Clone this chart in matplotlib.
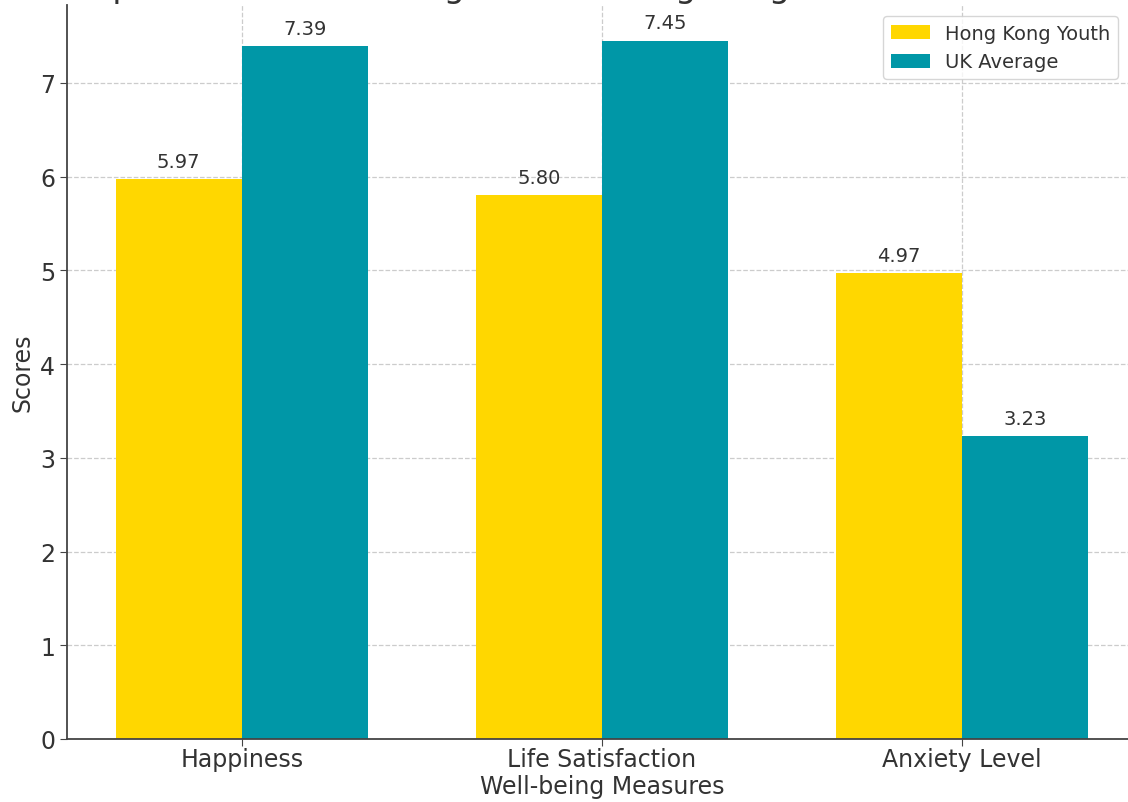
import matplotlib
matplotlib.use('Agg')
import matplotlib.pyplot as plt
import numpy as np

# well-being scores by measure
measures = ['Happiness', 'Life Satisfaction', 'Anxiety Level']
hk_youth = [5.97, 5.80, 4.97]
uk_avg = [7.39, 7.45, 3.23]

txt = '#333333'
plt.rcParams['font.family'] = 'DejaVu Sans'

fig = plt.figure(figsize=(11.28, 8.03), dpi=100)
# axes runs a little past the right edge of the canvas
ax = fig.add_axes([67/1128, 63/803, 1070/1128, 734/803])

x = np.arange(len(measures))
w = 0.35
b1 = ax.bar(x - w/2, hk_youth, w, color='#FFD700', label='Hong Kong Youth', zorder=2)
b2 = ax.bar(x + w/2, uk_avg, w, color='#0097A7', label='UK Average', zorder=2)

for bars in (b1, b2):
    for r in bars:
        h = r.get_height()
        ax.annotate('{:.2f}'.format(h), (r.get_x() + r.get_width()/2, h),
                    xytext=(0, 6), textcoords='offset points',
                    ha='center', va='bottom', fontsize=14, color=txt)

ax.set_ylim(0, 7.83)
ax.set_xticks(x)
ax.set_xticklabels(measures)
ax.set_yticks(range(0, 8))
ax.tick_params(labelsize=17, colors='#444444', labelcolor=txt, length=5)
ax.tick_params(axis='x', pad=1)
ax.set_xlabel('Well-being Measures', fontsize=17, color=txt, labelpad=2)
ax.set_ylabel('Scores', fontsize=17, color=txt)

ax.grid(True, ls='--', color='#cccccc', lw=0.9)
ax.set_axisbelow(True)
for s in ('top', 'right'):
    ax.spines[s].set_visible(False)
for s in ('left', 'bottom'):
    ax.spines[s].set_color('#444444')
    ax.spines[s].set_linewidth(1.3)

leg = ax.legend(loc='upper left', bbox_to_anchor=(883/1128, 1 - 17/803),
                bbox_transform=fig.transFigure, borderaxespad=0,
                fontsize=14, frameon=True, fancybox=True)
leg.get_frame().set_edgecolor('#cccccc')
for t in leg.get_texts():
    t.set_color(txt)

# title sits mostly above the canvas
fig.text((67 + 1137)/2/1128, 1 + 3/803,
         'Comparison of Well-being Scores: Hong Kong Students vs UK Adults',
         ha='center', va='baseline', fontsize=24, color=txt)

fig.savefig('out.png', dpi=100)
